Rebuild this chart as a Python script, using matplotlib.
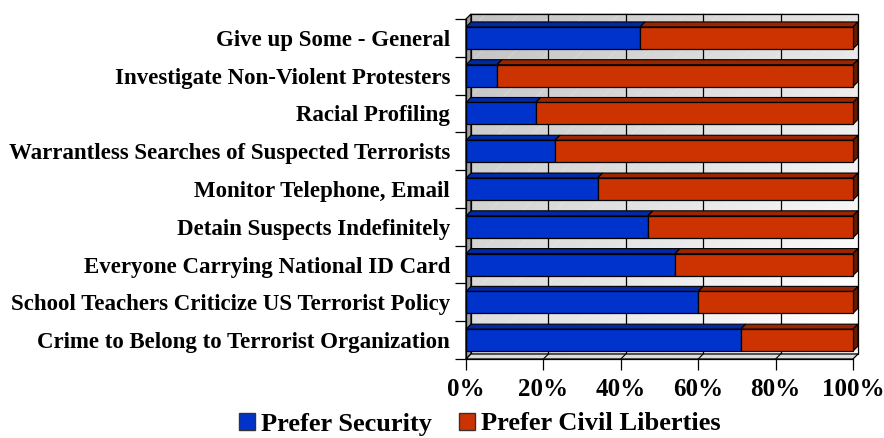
import matplotlib
matplotlib.use("Agg")
import matplotlib.pyplot as plt
from matplotlib.patches import Polygon, Rectangle, Patch
from matplotlib.ticker import FixedLocator, NullFormatter
import numpy as np

# Survey results: share preferring security vs. civil liberties (percent)
categories = [
    "Give up Some - General",
    "Investigate Non-Violent Protesters",
    "Racial Profiling",
    "Warrantless Searches of Suspected Terrorists",
    "Monitor Telephone, Email",
    "Detain Suspects Indefinitely",
    "Everyone Carrying National ID Card",
    "School Teachers Criticize US Terrorist Policy",
    "Crime to Belong to Terrorist Organization",
]
prefer_security = [45, 8, 18, 23, 34, 47, 54, 60, 71]
prefer_civil_liberties = [55, 92, 82, 77, 66, 53, 46, 40, 29]
x_ticks = [0, 20, 40, 60, 80, 100]
x_tick_labels = ["0%", "20%", "40%", "60%", "80%", "100%"]
series_names = ["Prefer Security", "Prefer Civil Liberties"]

# colours: front face, top face, end face
BLUE = ("#0033cc", "#0029a3", "#001f7a")
RED = ("#cc3300", "#992600", "#661a00")

plt.rcParams["font.family"] = ["Liberation Serif", "DejaVu Serif"]
plt.rcParams["hatch.linewidth"] = 0.5

W, H = 884, 438
fig = plt.figure(figsize=(W / 100, H / 100), dpi=100)
fig.patch.set_facecolor("white")

# front plane of the 3-D plot area (pixels)
left_px, right_px, top_px, bottom_px = 466, 853, 19, 359
ax = fig.add_axes([left_px / W, 1 - bottom_px / H,
                   (right_px - left_px) / W, (bottom_px - top_px) / H])
n = len(categories)
ax.set_xlim(0, 100)
ax.set_ylim(-0.5, n - 0.5)
ax.set_facecolor("none")

# depth of walls and bars, in pixels -> data units
DEPTH = 5.0
dx = DEPTH / (right_px - left_px) * 100
dy = DEPTH / ((bottom_px - top_px) / n)
y_lo, y_hi = -0.5, n - 0.5

# back wall with a soft diagonal gradient
gx = np.linspace(0, 1, 200)
gy = np.linspace(0, 1, 200)
GX, GY = np.meshgrid(gx, gy)
shade = 0.76 + 0.14 * GX + 0.12 * GY
shade = np.clip(shade, 0, 1)
img = np.dstack([shade, shade, shade])
im = ax.imshow(img, extent=[dx, 100 + dx, y_lo + dy, y_hi + dy],
               origin="upper", aspect="auto", zorder=0, interpolation="bilinear")
im.set_clip_on(False)
ax.add_patch(Rectangle((dx, y_lo + dy), 100, y_hi - y_lo, fill=False,
                       hatch="/", edgecolor=(1, 1, 1, 0.28), linewidth=0,
                       zorder=0.5, clip_on=False))
ax.add_patch(Rectangle((dx, y_lo + dy), 100, y_hi - y_lo, fill=False,
                       edgecolor="black", linewidth=0.9, zorder=2, clip_on=False))

# left side wall
ax.add_patch(Polygon([(0, y_lo), (dx, y_lo + dy), (dx, y_hi + dy), (0, y_hi)],
                     closed=True, facecolor="#a0a0a0", edgecolor="black",
                     linewidth=0.9, zorder=2, clip_on=False))
# floor
ax.add_patch(Polygon([(0, y_lo), (dx, y_lo + dy), (100 + dx, y_lo + dy), (100, y_lo)],
                     closed=True, facecolor="#dcdcdc", edgecolor="black",
                     linewidth=0.9, zorder=2, clip_on=False))

# gridlines on back wall and floor
for t in x_ticks[1:-1]:
    ax.plot([t + dx, t + dx], [y_lo + dy, y_hi + dy], color="black",
            linewidth=0.9, zorder=1.5, clip_on=False)
    ax.plot([t, t + dx], [y_lo, y_lo + dy], color="black",
            linewidth=0.8, zorder=2.5, clip_on=False)

# 3-D stacked bars
bar_h = 0.58
for i in range(n):
    yc = n - 1 - i
    y0, y1 = yc - bar_h / 2, yc + bar_h / 2
    segs = [(0, prefer_security[i], BLUE),
            (prefer_security[i], prefer_security[i] + prefer_civil_liberties[i], RED)]
    for k, (a, b, cols) in enumerate(segs):
        ax.add_patch(Polygon([(a, y1), (a + dx, y1 + dy), (b + dx, y1 + dy), (b, y1)],
                             closed=True, facecolor=cols[1], edgecolor="black",
                             linewidth=0.8, zorder=3, clip_on=False))
        ax.add_patch(Rectangle((a, y0), b - a, bar_h, facecolor=cols[0],
                               edgecolor="black", linewidth=0.9, zorder=4,
                               clip_on=False))
        if k == len(segs) - 1:
            ax.add_patch(Polygon([(b, y0), (b + dx, y0 + dy), (b + dx, y1 + dy), (b, y1)],
                                 closed=True, facecolor=cols[2], edgecolor="black",
                                 linewidth=0.8, zorder=3, clip_on=False))

# axes styling
for side in ("top", "right"):
    ax.spines[side].set_visible(False)
for side in ("left", "bottom"):
    ax.spines[side].set_linewidth(0.9)
    ax.spines[side].set_zorder(5)

ax.set_xticks(x_ticks)
ax.set_xticklabels(x_tick_labels, fontsize=18, fontweight="bold")
ax.tick_params(axis="x", length=8, width=0.9, pad=6)

ax.yaxis.set_major_locator(FixedLocator(np.arange(-0.5, n, 1.0)))
ax.yaxis.set_major_formatter(NullFormatter())
ax.yaxis.set_minor_locator(FixedLocator([n - 1 - i for i in range(n)]))
ax.set_yticklabels(categories, minor=True, fontsize=16.5, fontweight="bold")
ax.tick_params(axis="y", which="major", length=8, width=0.9)
ax.tick_params(axis="y", which="minor", length=0, pad=11.5)

# legend
handles = [Patch(facecolor=BLUE[0], edgecolor="#333333", linewidth=1.0),
           Patch(facecolor=RED[0], edgecolor="#333333", linewidth=1.0)]
fig.legend(handles, series_names, loc="center", bbox_to_anchor=(480 / W, 1 - 424 / H),
           ncol=2, frameon=False, handlelength=0.6, handleheight=0.6,
           handletextpad=0.25, columnspacing=1.0,
           prop={"size": 19, "weight": "bold"})

fig.savefig("out.png", dpi=100)
